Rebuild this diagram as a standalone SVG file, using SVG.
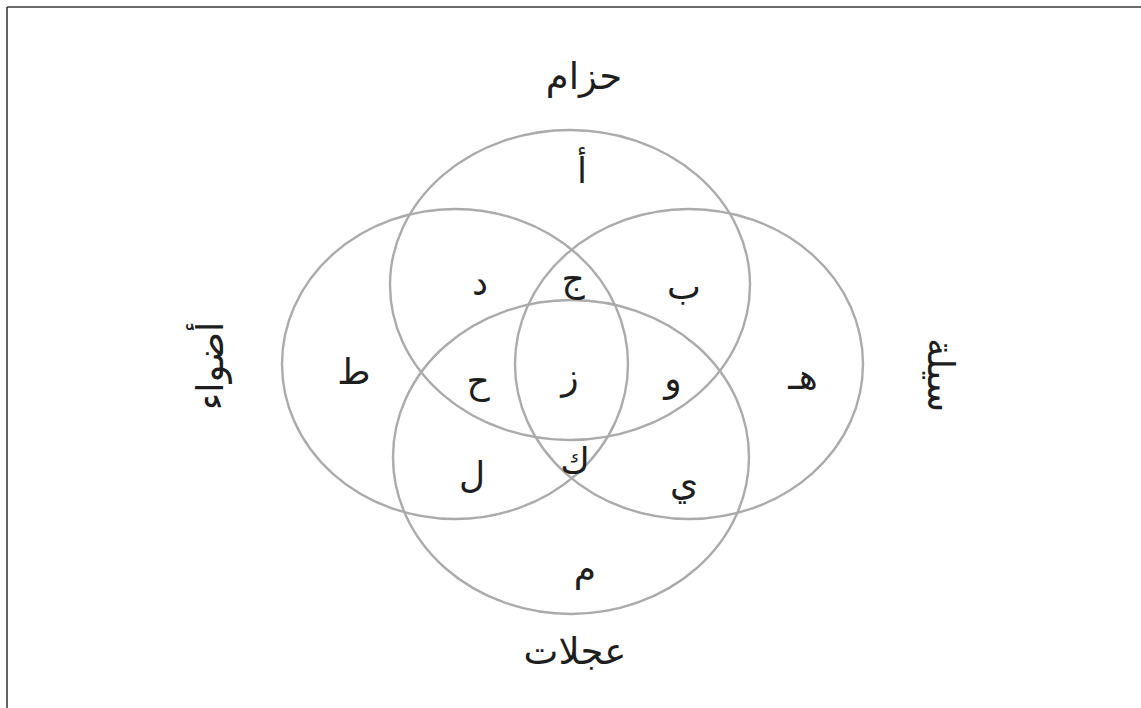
<svg xmlns="http://www.w3.org/2000/svg" width="1141" height="708" viewBox="0 0 1141 708">
  <style>
    .set { fill: none; stroke: #ababab; stroke-width: 2.4; }
    .frame { stroke: #3a3a3a; stroke-width: 1.6; fill: none; }
    .lbl { font-family: "DejaVu Sans", "Noto Sans", sans-serif; fill: #1e1e1e; text-anchor: middle; dominant-baseline: central; }
    .big { font-size: 37px; }
    .let { font-size: 36px; }
  </style>
  <rect x="0" y="0" width="1141" height="708" fill="#ffffff"/>
  <g id="frame">
    <line class="frame" x1="7" y1="7" x2="1141" y2="7"/>
    <line class="frame" x1="7" y1="7" x2="7" y2="708"/>
  </g>
  <g id="set-hizam">
    <ellipse class="set" cx="570" cy="285" rx="180" ry="155"/>
    <text class="lbl big" x="584" y="76">حزام</text>
  </g>
  <g id="set-ajalat">
    <ellipse class="set" cx="571" cy="457" rx="178" ry="157"/>
    <text class="lbl big" x="575" y="651">عجلات</text>
  </g>
  <g id="set-adwa">
    <ellipse class="set" cx="455" cy="364" rx="173" ry="155"/>
    <text class="lbl big" transform="translate(210,366) rotate(-90)" x="0" y="0">أضواء</text>
  </g>
  <g id="set-right">
    <ellipse class="set" cx="689" cy="364" rx="174" ry="155"/>
    <text class="lbl big" transform="translate(940,375) rotate(90)" x="0" y="0">سيلة</text>
  </g>
  <g id="regions">
    <g id="r-alif"><text class="lbl let" x="582" y="170">أ</text></g>
    <g id="r-dal"><text class="lbl let" x="480" y="282">د</text></g>
    <g id="r-jim"><text class="lbl let" x="573" y="278">ج</text></g>
    <g id="r-ba"><text class="lbl let" x="684" y="286">ب</text></g>
    <g id="r-ta"><text class="lbl let" x="354" y="371">ط</text></g>
    <g id="r-ha"><text class="lbl let" x="478" y="380">ح</text></g>
    <g id="r-zay"><text class="lbl let" x="570" y="376">ز</text></g>
    <g id="r-waw"><text class="lbl let" x="673" y="378">و</text></g>
    <g id="r-he"><text class="lbl let" x="803" y="376">هـ</text></g>
    <g id="r-kaf"><text class="lbl let" x="575" y="460">ك</text></g>
    <g id="r-lam"><text class="lbl let" x="472" y="474">ل</text></g>
    <g id="r-ya"><text class="lbl let" x="684" y="482">ي</text></g>
    <g id="r-mim"><text class="lbl let" x="585" y="568">م</text></g>
  </g>
</svg>
